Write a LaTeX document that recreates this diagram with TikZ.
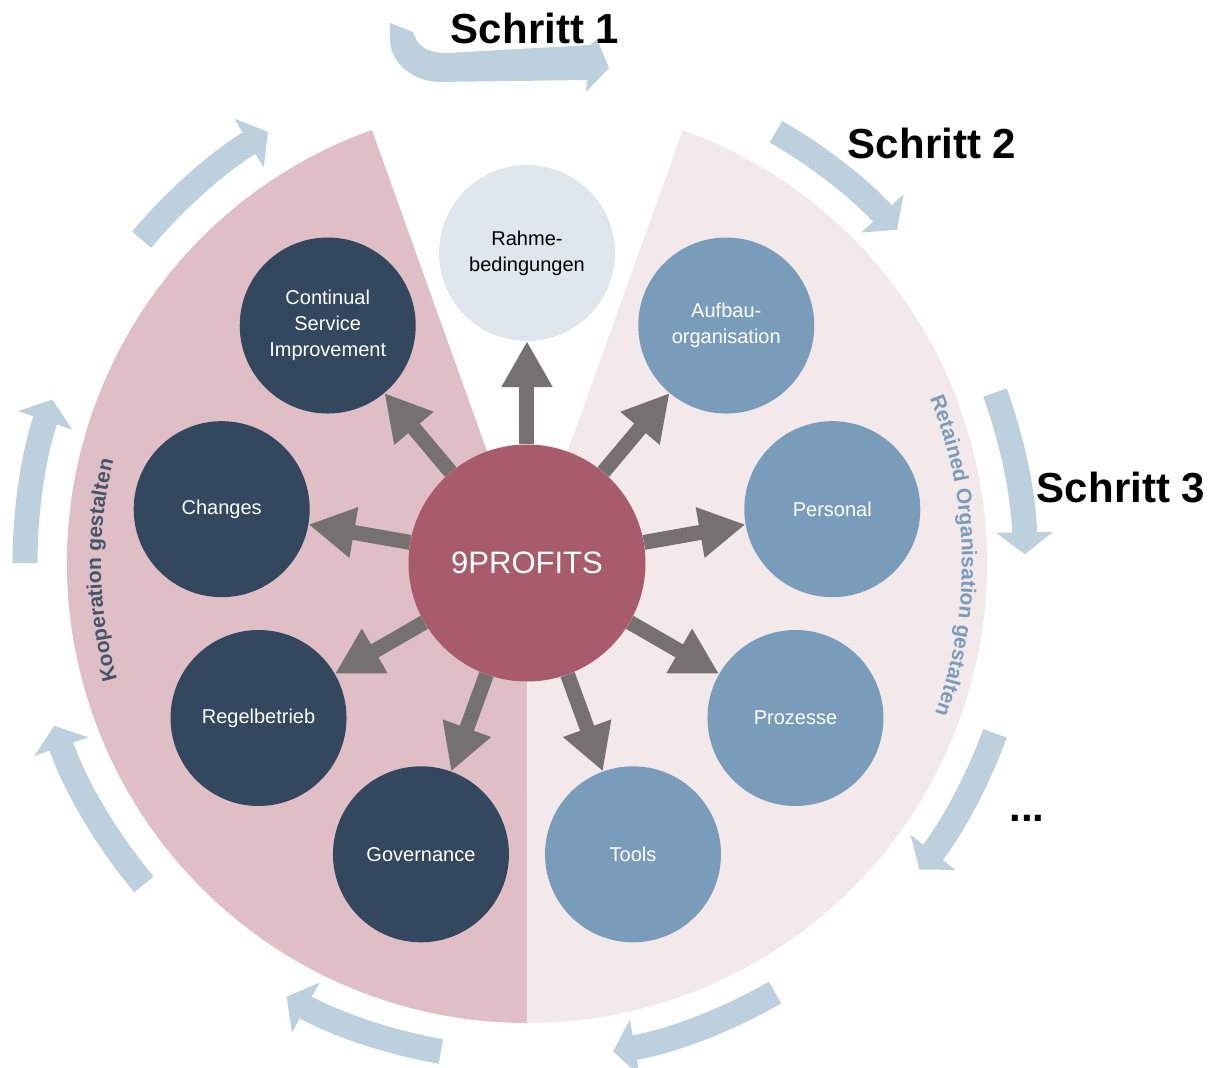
\documentclass[tikz,border=0pt]{standalone}
\usepackage{fontspec}
\setmainfont{Liberation Sans}
\usepackage{tikz}
\usetikzlibrary{arrows.meta, decorations.text}
\usepackage{xcolor}
\definecolor{leftpink}{HTML}{DFBEC5}
\definecolor{rightpink}{HTML}{F3E8EA}
\definecolor{navy}{HTML}{33475F}
\definecolor{steel}{HTML}{7A9CBB}
\definecolor{pale}{HTML}{DFE6EE}
\definecolor{wine}{HTML}{A85B6A}
\definecolor{spokegray}{HTML}{767171}
\definecolor{stepblue}{HTML}{BDD0DE}
\definecolor{slate}{HTML}{44546A}
\begin{document}
\begin{tikzpicture}[x=1pt, y=1pt,
        topic/.style={circle, minimum size=176pt, inner sep=0pt, align=center, font=\fontsize{20}{26}\selectfont},
        darktopic/.style={topic, fill=navy, text=white},
        bluetopic/.style={topic, fill=steel, text=white},
        spoke/.style={spokegray, line width=15pt, -{Triangle[length=46pt, width=48pt]}},
        stepflow/.style={stepblue, line width=25pt, -{Triangle[length=22pt, width=56pt]}},
        steplabel/.style={font=\fontsize{42}{48}\selectfont\bfseries}]
        \useasboundingbox (-527, -505) rectangle (681, 563);
        % Sectors
        \fill [leftpink] (0, 0) -- (109.7:460) arc[start angle=109.7, end angle=270, radius=460] -- cycle;
        \fill [rightpink] (0.5, 0) -- (70.2:460) arc[start angle=70.2, end angle=-90, radius=460] -- cycle;
        % Steps
        \fill [stepblue] (-137, 540) -- (-114, 531) .. controls (-110, 517) and (-100, 510) .. (-80, 510)
            -- (63, 518) -- (70, 524) -- (82, 495) -- (59, 471) -- (60, 483) -- (-89, 481)
            .. controls (-120, 483) and (-137, 505) .. (-137, 523) -- cycle;
        \draw [stepflow] (60:498) arc[start angle=60, end angle=42, radius=498];
        \draw [stepflow] (20:498) arc[start angle=20, end angle=1, radius=498];
        \draw [stepflow] (-20:498) arc[start angle=-20, end angle=-38, radius=498];
        \draw [stepflow] (-60:496) arc[start angle=-60, end angle=-80, radius=496];
        \draw [stepflow] (-100:496) arc[start angle=-100, end angle=-119, radius=496];
        \draw [stepflow] (-140:500) arc[start angle=-140, end angle=-161, radius=500];
        \draw [stepflow] (180:502) arc[start angle=180, end angle=161, radius=502];
        \draw [stepflow] (140:503) arc[start angle=140, end angle=121, radius=503];
        \node [steplabel] (s1) at (8, 535) {Schritt 1};
        \node [steplabel] (s2) at (405, 420) {Schritt 2};
        \node [steplabel] (s3) at (594, 75) {Schritt 3};
        \node [steplabel] (more) at (500, -255) {...};
        % Side texts
        \path [decorate, decoration={text along path, text align=center, text color=slate,
            text={|\fontsize{21}{25}\selectfont\bfseries|Kooperation gestalten}}]
            (206:426) arc[start angle=206, end angle=156, radius=426];
        \path [decorate, decoration={text along path, text align=center, text color=steel,
            text={|\fontsize{21}{25}\selectfont\bfseries|Retained Organisation gestalten}}]
            (31:435) arc[start angle=31, end angle=-29, radius=435];
        % Topics
        \node [circle, fill=wine, minimum size=237pt, inner sep=0pt, text=white, font=\fontsize{31}{36}\selectfont] (core) at (0, 0) {9PROFITS};
        \node [topic, fill=pale] (rahmen) at (90:310) {Rahme-\\bedingungen};
        \node [darktopic] (csi) at (130:310) {Continual\\Service\\Improvement};
        \node [darktopic] (changes) at (170:310) {Changes};
        \node [darktopic] (regel) at (210:310) {Regelbetrieb};
        \node [darktopic] (gov) at (250:310) {Governance};
        \node [bluetopic] (tools) at (290:310) {Tools};
        \node [bluetopic] (proz) at (330:310) {Prozesse};
        \node [bluetopic] (personal) at (10:310) {Personal};
        \node [bluetopic] (aufbau) at (50:310) {Aufbau-\\organisation};
        % Spokes
        \draw [spoke] (core) -- (rahmen);
        \draw [spoke] (core) -- (csi);
        \draw [spoke] (core) -- (changes);
        \draw [spoke] (core) -- (regel);
        \draw [spoke] (core) -- (gov);
        \draw [spoke] (core) -- (tools);
        \draw [spoke] (core) -- (proz);
        \draw [spoke] (core) -- (personal);
        \draw [spoke] (core) -- (aufbau);
\end{tikzpicture}
\end{document}
